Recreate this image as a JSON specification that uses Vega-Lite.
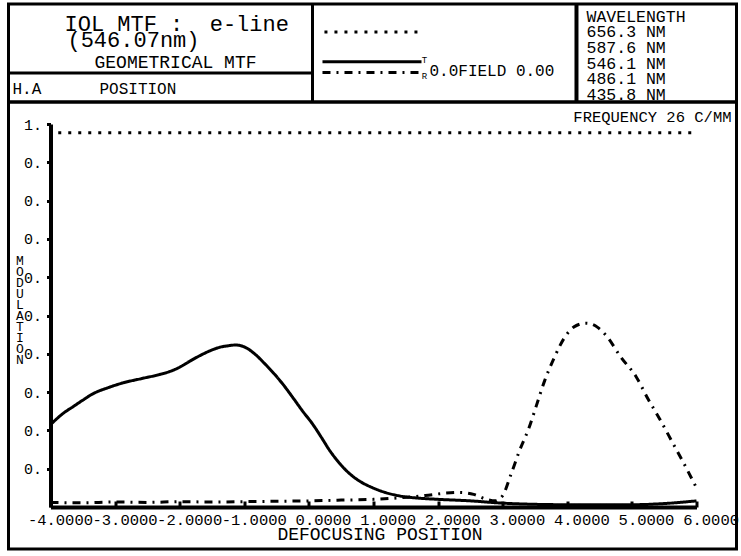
{
  "$schema": "https://vega.github.io/schema/vega-lite/v6.json",
  "background": "white",
  "padding": {"left": 5.5, "top": 0, "right": 0, "bottom": 6},
  "config": {
    "font": "Liberation Mono",
    "view": {"stroke": "black", "strokeWidth": 3},
    "text": {"color": "black", "font": "Liberation Mono"},
    "axis": {"labelColor": "black", "titleColor": "black", "tickColor": "black", "domainColor": "black", "labelFont": "Liberation Mono", "titleFont": "Liberation Mono", "titleFontWeight": "normal", "grid": false}
  },
  "datasets": {
    "mtf": [
      {"series": "limit", "focus": -3.88, "mod": 0.977},
      {"series": "limit", "focus": 5.95, "mod": 0.977},

      {"series": "T", "focus": -4.0, "mod": 0.215},
      {"series": "T", "focus": -3.8, "mod": 0.245},
      {"series": "T", "focus": -3.65, "mod": 0.262},
      {"series": "T", "focus": -3.5, "mod": 0.279},
      {"series": "T", "focus": -3.35, "mod": 0.295},
      {"series": "T", "focus": -3.1, "mod": 0.312},
      {"series": "T", "focus": -2.88, "mod": 0.324},
      {"series": "T", "focus": -2.6, "mod": 0.335},
      {"series": "T", "focus": -2.31, "mod": 0.346},
      {"series": "T", "focus": -2.15, "mod": 0.354},
      {"series": "T", "focus": -2.0, "mod": 0.365},
      {"series": "T", "focus": -1.85, "mod": 0.38},
      {"series": "T", "focus": -1.69, "mod": 0.395},
      {"series": "T", "focus": -1.5, "mod": 0.41},
      {"series": "T", "focus": -1.38, "mod": 0.417},
      {"series": "T", "focus": -1.25, "mod": 0.421},
      {"series": "T", "focus": -1.13, "mod": 0.423},
      {"series": "T", "focus": -1.0, "mod": 0.418},
      {"series": "T", "focus": -0.82, "mod": 0.397},
      {"series": "T", "focus": -0.7, "mod": 0.377},
      {"series": "T", "focus": -0.56, "mod": 0.352},
      {"series": "T", "focus": -0.4, "mod": 0.32},
      {"series": "T", "focus": -0.25, "mod": 0.286},
      {"series": "T", "focus": -0.1, "mod": 0.251},
      {"series": "T", "focus": 0.06, "mod": 0.216},
      {"series": "T", "focus": 0.2, "mod": 0.18},
      {"series": "T", "focus": 0.32, "mod": 0.148},
      {"series": "T", "focus": 0.47, "mod": 0.115},
      {"series": "T", "focus": 0.63, "mod": 0.087},
      {"series": "T", "focus": 0.8, "mod": 0.066},
      {"series": "T", "focus": 0.99, "mod": 0.05},
      {"series": "T", "focus": 1.2, "mod": 0.037},
      {"series": "T", "focus": 1.4, "mod": 0.029},
      {"series": "T", "focus": 1.71, "mod": 0.023},
      {"series": "T", "focus": 2.0, "mod": 0.02},
      {"series": "T", "focus": 2.5, "mod": 0.016},
      {"series": "T", "focus": 3.0, "mod": 0.01},
      {"series": "T", "focus": 3.5, "mod": 0.007},
      {"series": "T", "focus": 4.0, "mod": 0.006},
      {"series": "T", "focus": 4.5, "mod": 0.006},
      {"series": "T", "focus": 5.0, "mod": 0.006},
      {"series": "T", "focus": 5.5, "mod": 0.009},
      {"series": "T", "focus": 6.0, "mod": 0.016},

      {"series": "R", "focus": -4.0, "mod": 0.012},
      {"series": "R", "focus": -3.5, "mod": 0.011},
      {"series": "R", "focus": -3.0, "mod": 0.013},
      {"series": "R", "focus": -2.5, "mod": 0.012},
      {"series": "R", "focus": -2.0, "mod": 0.014},
      {"series": "R", "focus": -1.5, "mod": 0.013},
      {"series": "R", "focus": -1.0, "mod": 0.014},
      {"series": "R", "focus": -0.5, "mod": 0.015},
      {"series": "R", "focus": 0.0, "mod": 0.016},
      {"series": "R", "focus": 0.5, "mod": 0.018},
      {"series": "R", "focus": 1.0, "mod": 0.02},
      {"series": "R", "focus": 1.4, "mod": 0.024},
      {"series": "R", "focus": 1.8, "mod": 0.03},
      {"series": "R", "focus": 2.1, "mod": 0.036},
      {"series": "R", "focus": 2.33, "mod": 0.038},
      {"series": "R", "focus": 2.55, "mod": 0.033},
      {"series": "R", "focus": 2.75, "mod": 0.02},
      {"series": "R", "focus": 2.88, "mod": 0.016},
      {"series": "R", "focus": 3.0, "mod": 0.03},
      {"series": "R", "focus": 3.13, "mod": 0.086},
      {"series": "R", "focus": 3.26, "mod": 0.147},
      {"series": "R", "focus": 3.41, "mod": 0.208},
      {"series": "R", "focus": 3.52, "mod": 0.264},
      {"series": "R", "focus": 3.65, "mod": 0.33},
      {"series": "R", "focus": 3.79, "mod": 0.387},
      {"series": "R", "focus": 3.96, "mod": 0.443},
      {"series": "R", "focus": 4.11, "mod": 0.471},
      {"series": "R", "focus": 4.29, "mod": 0.48},
      {"series": "R", "focus": 4.47, "mod": 0.469},
      {"series": "R", "focus": 4.6, "mod": 0.448},
      {"series": "R", "focus": 4.83, "mod": 0.391},
      {"series": "R", "focus": 5.07, "mod": 0.339},
      {"series": "R", "focus": 5.25, "mod": 0.282},
      {"series": "R", "focus": 5.43, "mod": 0.23},
      {"series": "R", "focus": 5.63, "mod": 0.168},
      {"series": "R", "focus": 5.81, "mod": 0.112},
      {"series": "R", "focus": 6.0, "mod": 0.05}
    ]
  },
  "spacing": 0,
  "bounds": "flush",
  "vconcat": [
    {
      "width": 728, "height": 98,
      "data": {"values": [{}]},
      "layer": [
        {
          "mark": {"type": "rule", "strokeWidth": 3, "color": "black"},
          "encoding": {
            "x": {"datum": 0.4176, "type": "quantitative", "scale": {"domain": [0, 1]}, "axis": null}
          }
        },
        {
          "mark": {"type": "rule", "strokeWidth": 4, "color": "black"},
          "encoding": {
            "x": {"datum": 0.7802, "type": "quantitative", "scale": {"domain": [0, 1]}, "axis": null}
          }
        },
        {
          "mark": {"type": "rule", "strokeWidth": 3, "color": "black"},
          "encoding": {
            "x": {"datum": 0, "type": "quantitative", "scale": {"domain": [0, 1]}, "axis": null},
            "x2": {"datum": 0.4176},
            "y": {"datum": 0.704, "type": "quantitative", "scale": {"domain": [0, 1], "reverse": true}, "axis": null}
          }
        },
        {
          "mark": {"type": "text", "align": "left", "baseline": "middle", "fontSize": 22, "text": "IOL MTF :\u00a0 e-line"},
          "encoding": {
            "x": {"datum": 0.0769, "type": "quantitative", "scale": {"domain": [0, 1]}, "axis": null},
            "y": {"datum": 0.204, "type": "quantitative", "scale": {"domain": [0, 1], "reverse": true}, "axis": null}
          }
        },
        {
          "mark": {"type": "text", "align": "left", "baseline": "middle", "fontSize": 22, "text": "(546.07nm)"},
          "encoding": {
            "x": {"datum": 0.081, "type": "quantitative", "scale": {"domain": [0, 1]}, "axis": null},
            "y": {"datum": 0.372, "type": "quantitative", "scale": {"domain": [0, 1], "reverse": true}, "axis": null}
          }
        },
        {
          "mark": {"type": "text", "align": "left", "baseline": "middle", "fontSize": 18, "text": "GEOMETRICAL MTF"},
          "encoding": {
            "x": {"datum": 0.1181, "type": "quantitative", "scale": {"domain": [0, 1]}, "axis": null},
            "y": {"datum": 0.6, "type": "quantitative", "scale": {"domain": [0, 1], "reverse": true}, "axis": null}
          }
        },
        {
          "mark": {"type": "text", "align": "left", "baseline": "middle", "fontSize": 16, "text": "H.A"},
          "encoding": {
            "x": {"datum": 0.0055, "type": "quantitative", "scale": {"domain": [0, 1]}, "axis": null},
            "y": {"datum": 0.87, "type": "quantitative", "scale": {"domain": [0, 1], "reverse": true}, "axis": null}
          }
        },
        {
          "mark": {"type": "text", "align": "left", "baseline": "middle", "fontSize": 16, "text": "POSITION"},
          "encoding": {
            "x": {"datum": 0.125, "type": "quantitative", "scale": {"domain": [0, 1]}, "axis": null},
            "y": {"datum": 0.87, "type": "quantitative", "scale": {"domain": [0, 1], "reverse": true}, "axis": null}
          }
        },
        {
          "mark": {"type": "rule", "strokeWidth": 3, "strokeDash": [3, 7], "color": "black"},
          "encoding": {
            "x": {"datum": 0.434, "type": "quantitative", "scale": {"domain": [0, 1]}, "axis": null},
            "x2": {"datum": 0.5646},
            "y": {"datum": 0.285, "type": "quantitative", "scale": {"domain": [0, 1], "reverse": true}, "axis": null}
          }
        },
        {
          "mark": {"type": "rule", "strokeWidth": 3, "color": "black"},
          "encoding": {
            "x": {"datum": 0.4313, "type": "quantitative", "scale": {"domain": [0, 1]}, "axis": null},
            "x2": {"datum": 0.5673},
            "y": {"datum": 0.59, "type": "quantitative", "scale": {"domain": [0, 1], "reverse": true}, "axis": null}
          }
        },
        {
          "mark": {"type": "rule", "strokeWidth": 3, "strokeDash": [8, 6, 2, 6], "color": "black"},
          "encoding": {
            "x": {"datum": 0.4313, "type": "quantitative", "scale": {"domain": [0, 1]}, "axis": null},
            "x2": {"datum": 0.5673},
            "y": {"datum": 0.7, "type": "quantitative", "scale": {"domain": [0, 1], "reverse": true}, "axis": null}
          }
        },
        {
          "mark": {"type": "text", "align": "center", "baseline": "middle", "fontSize": 9, "text": "T"},
          "encoding": {
            "x": {"datum": 0.5714, "type": "quantitative", "scale": {"domain": [0, 1]}, "axis": null},
            "y": {"datum": 0.571, "type": "quantitative", "scale": {"domain": [0, 1], "reverse": true}, "axis": null}
          }
        },
        {
          "mark": {"type": "text", "align": "center", "baseline": "middle", "fontSize": 9, "text": "R"},
          "encoding": {
            "x": {"datum": 0.5714, "type": "quantitative", "scale": {"domain": [0, 1]}, "axis": null},
            "y": {"datum": 0.735, "type": "quantitative", "scale": {"domain": [0, 1], "reverse": true}, "axis": null}
          }
        },
        {
          "mark": {"type": "text", "align": "left", "baseline": "middle", "fontSize": 16, "text": "0.0FIELD 0.00"},
          "encoding": {
            "x": {"datum": 0.5783, "type": "quantitative", "scale": {"domain": [0, 1]}, "axis": null},
            "y": {"datum": 0.684, "type": "quantitative", "scale": {"domain": [0, 1], "reverse": true}, "axis": null}
          }
        },
        {
          "mark": {
            "type": "text", "align": "left", "baseline": "top", "fontSize": 16.5, "lineBreak": "\n", "lineHeight": 15.6,
            "text": "WAVELENGTH\n\u00a0656.3 NM\n\u00a0587.6 NM\n\u00a0546.1 NM\n\u00a0486.1 NM\n\u00a0435.8 NM"
          },
          "encoding": {
            "x": {"datum": 0.794, "type": "quantitative", "scale": {"domain": [0, 1]}, "axis": null},
            "y": {"datum": 0.05, "type": "quantitative", "scale": {"domain": [0, 1], "reverse": true}, "axis": null}
          }
        }
      ]
    },
    {
      "width": 728, "height": 447,
      "title": {"text": "FREQUENCY 26 C/MM", "anchor": "end", "orient": "top", "offset": -35, "baseline": "alphabetic", "fontSize": 15.5, "fontWeight": "normal", "font": "Liberation Mono", "color": "black", "dx": -7},
      "data": {"name": "mtf"},
      "mark": {"type": "line", "interpolate": "monotone", "strokeWidth": 3, "color": "black", "strokeCap": "butt"},
      "encoding": {
        "x": {
          "field": "focus", "type": "quantitative",
          "scale": {"domain": [-4, 6], "range": [42, 688], "nice": false, "zero": false},
          "axis": {
            "orient": "bottom", "offset": -42,
            "values": [-4, -3, -2, -1, 0, 1, 2, 3, 4, 5, 6],
            "labelExpr": "(datum.value < 0 ? '-' : '') + format(abs(datum.value), '.4f')",
            "labelAlign": "right", "labelOffset": 42, "labelFontSize": 15.5, "labelPadding": 11,
            "labelOverlap": false, "labelFlush": false, "labelBound": false,
            "tickSize": -6, "tickWidth": 3, "domainWidth": 4,
            "title": "DEFOCUSING POSITION", "titleFontSize": 18, "titleX": 371, "titleY": 18,
            "titleBaseline": "top", "titleAlign": "center"
          }
        },
        "y": {
          "field": "mod", "type": "quantitative",
          "scale": {"domain": [0, 1], "range": [405, 22], "nice": false},
          "axis": {
            "orient": "left", "offset": -42,
            "values": [0.1, 0.2, 0.3, 0.4, 0.5, 0.6, 0.7, 0.8, 0.9, 1],
            "labelExpr": "datum.value >= 1 ? '1.' : '0.'",
            "labelFontSize": 15, "labelPadding": 5,
            "tickSize": 4, "tickWidth": 3, "domainWidth": 4,
            "title": ["M", "O", "D", "U", "L", "A", "T", "I", "O", "N"],
            "titleAngle": 0, "titleAlign": "center", "titleBaseline": "top",
            "titleFontSize": 13, "titleLineHeight": 11, "titleX": -31, "titleY": 152
          }
        },
        "strokeDash": {
          "field": "series", "type": "nominal",
          "scale": {"domain": ["limit", "T", "R"], "range": [[3, 7], [1, 0], [8, 6, 2, 6]]},
          "legend": null
        }
      }
    }
  ]
}
